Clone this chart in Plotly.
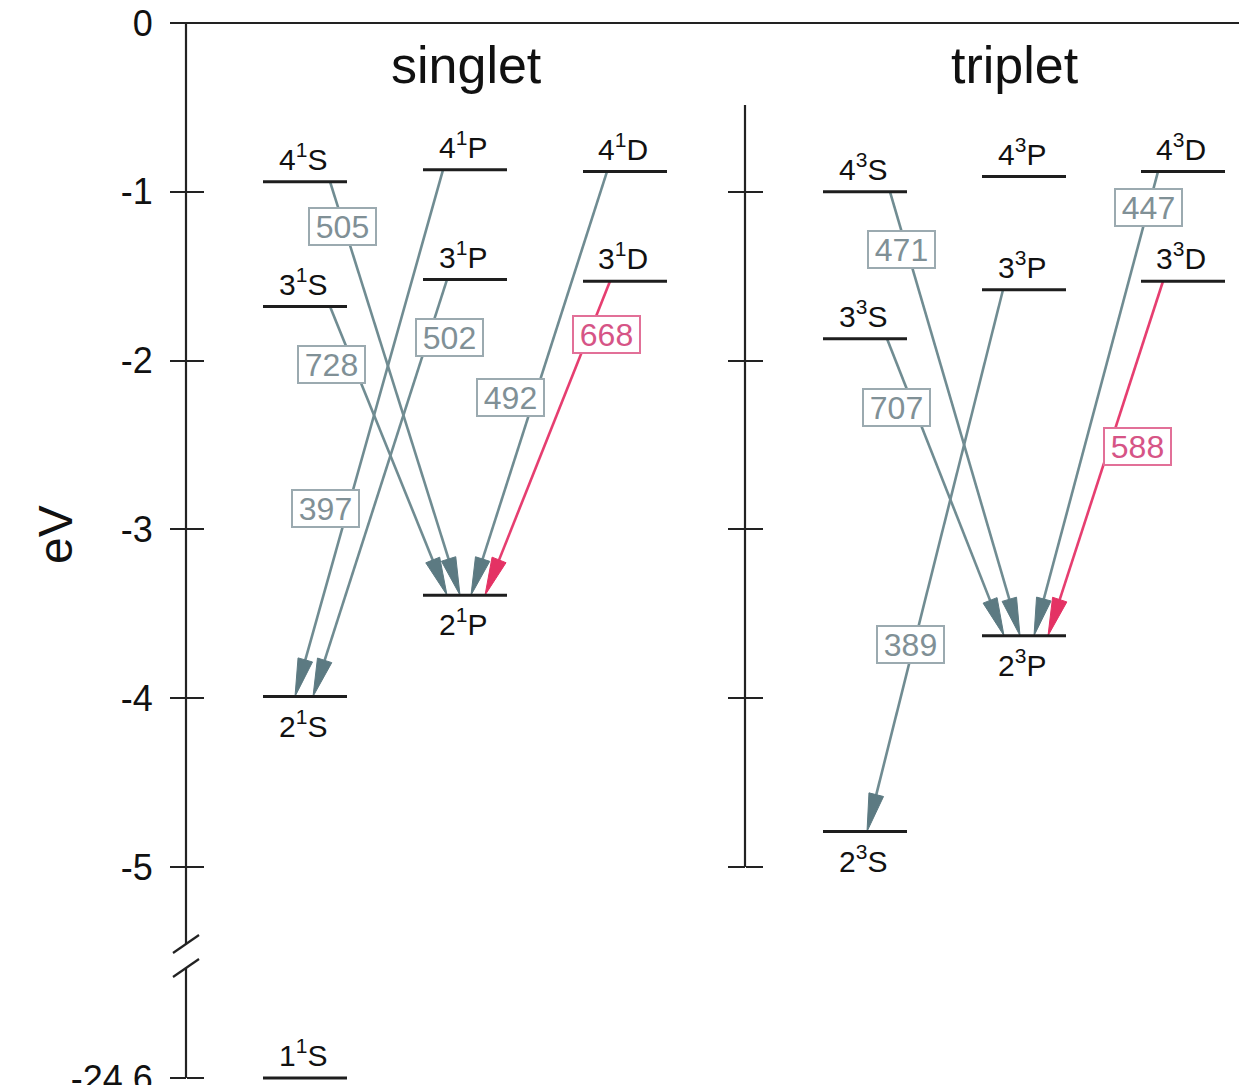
import math
import plotly.graph_objects as go

# ---------------- data ----------------
level_names = ["1¹S", "2¹S", "3¹S", "4¹S", "2¹P", "3¹P", "4¹P", "3¹D", "4¹D",
               "2³S", "3³S", "4³S", "2³P", "3³P", "4³P", "3³D", "4³D"]
level_energy_ev = [-24.6, -3.99, -1.68, -0.94, -3.39, -1.52, -0.87, -1.53, -0.88,
                   -4.79, -1.87, -1.00, -3.63, -1.58, -0.91, -1.53, -0.88]

trans_upper = ["4¹S", "3¹S", "4¹P", "3¹P", "4¹D", "3¹D",
               "4³S", "3³S", "3³P", "4³D", "3³D"]
trans_lower = ["2¹P", "2¹P", "2¹S", "2¹S", "2¹P", "2¹P",
               "2³P", "2³P", "2³S", "2³P", "2³P"]
trans_nm = [505, 728, 397, 502, 492, 668, 471, 707, 389, 447, 588]

axis_tick_ev = [0, -1, -2, -3, -4, -5, -24.6]
axis_tick_text = ["0", "-1", "-2", "-3", "-4", "-5", "-24.6"]
triplet_tick_ev = [-1, -2, -3, -4, -5]
panel_titles = ["singlet", "triplet"]

# ---------------- layout / positions / styles ----------------
W, H = 1247, 1085
PAGE_OFF = 8          # page body margin of the html page
Y0_PX = 23.0          # page pixel row of 0 eV
PX_PER_EV = 168.8
BREAK_SHIFT = 18.35   # energies below the break are shifted up by this amount
Y_TOP = (Y0_PX - PAGE_OFF) / PX_PER_EV
Y_BOT = (Y0_PX - PAGE_OFF - H) / PX_PER_EV


def disp(e):
    return e + BREAK_SHIFT if e < -10 else e


def py_to_d(p):
    return (Y0_PX - p) / PX_PER_EV


def d_to_py(d):
    return Y0_PX - d * PX_PER_EV


column_x = {"1S": 305, "1P": 465, "1D": 625, "3S": 865, "3P": 1024, "3D": 1183}
LEVEL_HALF = 42
upper_label = {"1¹S", "3¹S", "4¹S", "3¹P", "4¹P", "3¹D", "4¹D",
               "3³S", "4³S", "3³P", "4³P", "3³D", "4³D"}

arrow_x = {505: (330, 460), 728: (330, 447), 397: (443, 295), 502: (447, 313),
           492: (607, 471), 668: (610, 485), 471: (890, 1020), 707: (887, 1004),
           389: (1003, 867), 447: (1158, 1034), 588: (1163, 1048)}
label_px = {505: (342, 226), 728: (331, 364), 502: (449, 337), 397: (325, 508),
            492: (510, 397), 668: (606, 334), 471: (901, 249), 707: (896, 407),
            389: (910, 644), 447: (1148, 207), 588: (1137, 446)}
highlight = {668, 588}

GRAY_LINE = "rgb(112,140,146)"
GRAY_HEAD = "rgb(92,122,130)"
PINK_LINE = "rgb(230,62,112)"
PINK_HEAD = "rgb(228,50,100)"
GRAY_TXT = "rgb(128,144,150)"
GRAY_BOX = "rgb(155,170,176)"
PINK_TXT = "rgb(214,84,134)"
PINK_BOX = "rgb(226,112,152)"
FONT = "Liberation Sans, Arial, sans-serif"

energy = dict(zip(level_names, level_energy_ev))


def col_key(name):
    return ("1" if name[1] == "¹" else "3") + name[2]


def level_text(name):
    return name[0] + "<sup>" + ("1" if name[1] == "¹" else "3") + "</sup>" + name[2]


fig = go.Figure()

# ---- transitions: lines + arrowheads ----
HEAD_L, HEAD_HW = 38.0, 7.5
for up, lo, nm in zip(trans_upper, trans_lower, trans_nm):
    x0, x1 = arrow_x[nm]
    d0, d1 = disp(energy[up]), disp(energy[lo])
    p0, p1 = d_to_py(d0), d_to_py(d1)
    vx, vy = x1 - x0, p1 - p0
    n = math.hypot(vx, vy)
    ux, uy = vx / n, vy / n
    bx, by = x1 - HEAD_L * ux, p1 - HEAD_L * uy
    qx, qy = -uy, ux
    lc = PINK_LINE if nm in highlight else GRAY_LINE
    hc = PINK_HEAD if nm in highlight else GRAY_HEAD
    fig.add_trace(go.Scatter(x=[x0, bx + 4 * ux], y=[d0, py_to_d(by + 4 * uy)], mode="lines",
                             line=dict(color=lc, width=2.6), hoverinfo="skip", showlegend=False))
    fig.add_trace(go.Scatter(
        x=[x1, bx + HEAD_HW * qx, bx - HEAD_HW * qx, x1],
        y=[d1, py_to_d(by + HEAD_HW * qy), py_to_d(by - HEAD_HW * qy), d1],
        mode="lines", fill="toself", fillcolor=hc, line=dict(color=hc, width=1),
        hoverinfo="skip", showlegend=False))

# ---- energy levels ----
for name, e in zip(level_names, level_energy_ev):
    c = column_x[col_key(name)]
    d = disp(e)
    fig.add_trace(go.Scatter(x=[c - LEVEL_HALF, c + LEVEL_HALF], y=[d, d], mode="lines",
                             line=dict(color="#1e1e1e", width=3), hoverinfo="skip",
                             showlegend=False))
    above = name in upper_label
    fig.add_annotation(x=c - 2, y=d, text=level_text(name), showarrow=False,
                       xanchor="center", yanchor="bottom" if above else "top",
                       yshift=4 if above else -6,
                       font=dict(family=FONT, size=30, color="#111"))

# ---- wavelength labels ----
for nm in trans_nm:
    lx, lp = label_px[nm]
    pink = nm in highlight
    fig.add_annotation(x=lx, y=py_to_d(lp), text=str(nm), showarrow=False,
                       xanchor="center", yanchor="middle", width=63, height=33,
                       bgcolor="white", bordercolor=PINK_BOX if pink else GRAY_BOX,
                       borderwidth=2, borderpad=1,
                       font=dict(family=FONT, size=32, color=PINK_TXT if pink else GRAY_TXT))

# ---- axis lines (drawn as traces, with break) ----
AX_X = 186
MID_X = 745
brk_top, brk_bot = py_to_d(944), py_to_d(968)
fig.add_trace(go.Scatter(x=[AX_X, AX_X, None, AX_X, AX_X],
                         y=[0, brk_top, None, brk_bot, disp(axis_tick_ev[-1])],
                         mode="lines", line=dict(color="#222", width=2.2),
                         hoverinfo="skip", showlegend=False))
for pc in (944, 968):
    fig.add_trace(go.Scatter(x=[AX_X - 13, AX_X + 13], y=[py_to_d(pc + 9), py_to_d(pc - 9)],
                             mode="lines", line=dict(color="#222", width=2.2),
                             hoverinfo="skip", showlegend=False))
fig.add_trace(go.Scatter(x=[170, W + PAGE_OFF], y=[0, 0], mode="lines",
                         line=dict(color="#222", width=2.2), hoverinfo="skip", showlegend=False))
fig.add_trace(go.Scatter(x=[MID_X, MID_X], y=[py_to_d(105), triplet_tick_ev[-1]], mode="lines",
                         line=dict(color="#222", width=2.2), hoverinfo="skip", showlegend=False))

# dummy traces so overlay axes render
for ya in ("y2", "y3", "y4"):
    fig.add_trace(go.Scatter(x=[None], y=[None], yaxis=ya, showlegend=False, hoverinfo="skip"))

# ---- titles ----
fig.add_annotation(x=466, y=py_to_d(65), text=panel_titles[0], showarrow=False,
                   font=dict(family=FONT, size=52, color="#111"))
fig.add_annotation(x=1015, y=py_to_d(65), text=panel_titles[1], showarrow=False,
                   font=dict(family=FONT, size=52, color="#111"))
fig.add_annotation(x=55, y=py_to_d(535), text="eV", showarrow=False, textangle=-90,
                   font=dict(family=FONT, size=48, color="#111"))

tickvals_main = [disp(v) for v in axis_tick_ev]
common = dict(range=[Y_BOT, Y_TOP], showgrid=False, zeroline=False, showline=False,
              ticks="outside", tickwidth=2, tickcolor="#222", anchor="free",
              automargin=False)
fig.update_layout(
    width=W, height=H,
    margin=dict(l=0, r=0, t=0, b=0, autoexpand=False),
    paper_bgcolor="white", plot_bgcolor="white",
    showlegend=False,
    xaxis=dict(range=[PAGE_OFF, W + PAGE_OFF], visible=False, domain=[0, 1],
               automargin=False),
    yaxis=dict(**common, position=(AX_X - PAGE_OFF) / W, side="left", ticklen=16,
               tickvals=tickvals_main, ticktext=axis_tick_text, ticklabelstandoff=10,
               ticklabeloverflow="allow",
               tickfont=dict(family=FONT, size=36, color="#111")),
    yaxis2=dict(**common, overlaying="y", position=(AX_X - PAGE_OFF) / W, side="right",
                ticklen=17, tickvals=tickvals_main, showticklabels=False),
    yaxis3=dict(**common, overlaying="y", position=(MID_X - PAGE_OFF) / W, side="left",
                ticklen=17, tickvals=triplet_tick_ev, showticklabels=False),
    yaxis4=dict(**common, overlaying="y", position=(MID_X - PAGE_OFF) / W, side="right",
                ticklen=17, tickvals=triplet_tick_ev, showticklabels=False),
)

fig.write_html("out.html")
